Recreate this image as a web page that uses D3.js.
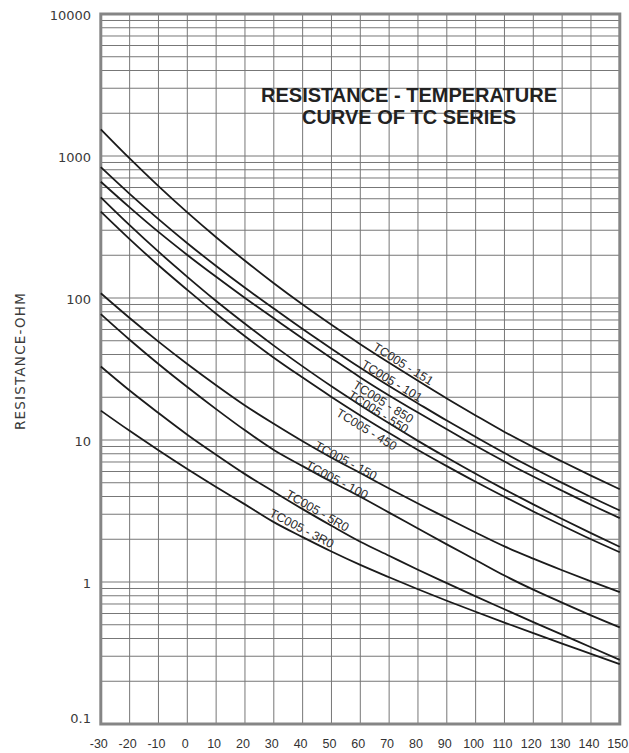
<!DOCTYPE html>
<html>
<head>
<meta charset="utf-8">
<script src="https://cdn.jsdelivr.net/npm/d3@7"></script>
<style>
  body { margin: 0; background: #fff; }
</style>
</head>
<body>
<div id="chart-area"></div>
<script>

let width = 629,
    height = 753;

// temperatures (deg C) every 10 from -30 to 150
let temps = [-30, -20, -10, 0, 10, 20, 30, 40, 50, 60, 70, 80, 90, 100, 110, 120, 130, 140, 150];

// resistance (ohm)
let r151 = [1542, 962, 614, 401, 268, 183, 127, 89.9, 64.7, 47.3, 35.0, 26.1, 19.6, 14.9, 11.4, 8.91, 7.05, 5.61, 4.50];
let r101 = [834, 541, 359, 243, 168, 118, 84.3, 60.5, 44.0, 32.3, 24.0, 18.1, 13.7, 10.5, 8.09, 6.32, 4.99, 3.97, 3.19];
let r850 = [659, 435, 292, 201, 141, 100, 71.9, 51.8, 37.7, 27.6, 20.6, 15.6, 11.9, 9.10, 7.05, 5.53, 4.39, 3.50, 2.82];
let r550 = [512, 326, 212, 141, 95.3, 65.9, 46.2, 33.0, 23.9, 17.6, 13.1, 9.86, 7.52, 5.78, 4.49, 3.52, 2.78, 2.21, 1.77];
let r450 = [406, 260, 170, 114, 77.4, 53.8, 38.0, 27.5, 20.1, 14.9, 11.2, 8.51, 6.55, 5.08, 3.98, 3.14, 2.50, 2.00, 1.62];
let r150 = [108, 72.3, 49.3, 34.3, 24.3, 17.5, 13.0, 9.79, 7.50, 5.85, 4.55, 3.57, 2.82, 2.23, 1.78, 1.46, 1.21, 1.01, 0.849];
let r100 = [76.9, 50.8, 34.3, 23.6, 16.5, 11.7, 8.51, 6.55, 5.08, 3.98, 3.08, 2.38, 1.84, 1.43, 1.11, 0.883, 0.715, 0.582, 0.479];
let r5r0 = [32.9, 22.3, 15.5, 10.9, 7.87, 5.75, 4.32, 3.26, 2.49, 1.92, 1.53, 1.22, 0.982, 0.792, 0.643, 0.522, 0.426, 0.347, 0.283];
let r3r0 = [16.1, 11.6, 8.47, 6.25, 4.67, 3.52, 2.64, 2.07, 1.64, 1.32, 1.08, 0.889, 0.738, 0.617, 0.518, 0.436, 0.368, 0.312, 0.264];

let seriesNames = ["TC005 - 151", "TC005 - 101", "TC005 - 850", "TC005 - 550", "TC005 - 450",
                   "TC005 - 150", "TC005 - 100", "TC005 - 5R0", "TC005 - 3R0"];
let seriesValues = [r151, r101, r850, r550, r450, r150, r100, r5r0, r3r0];

// where each curve name sits (temperature, ohm)
let labelTemps = [74.9, 71.0, 68.0, 66.3, 62.2, 55.0, 51.9, 45.2, 39.7];
let labelOhms = [34.4, 26.1, 18.6, 15.8, 11.9, 7.16, 5.24, 3.18, 2.39];

let xTickLabels = [-30, -20, -10, 0, 10, 20, 30, 40, 50, 60, 70, 80, 90, 100, 110, 120, 130, 140, 150];
let yTickLabels = [0.1, 1, 10, 100, 1000, 10000];

let svg = d3.select("#chart-area").append("svg")
    .attr("width", width)
    .attr("height", height);

let x = d3.scaleLinear().domain([-30, 150]).range([100.8, 619.8]);
let y = d3.scaleLog().domain([0.1, 10000]).range([724, 14]);

// grid lines: 1..9 in each decade
let yGrid = [];
[0.1, 1, 10, 100, 1000].forEach(function(d){
  for (let k = 1; k <= 9; k++) yGrid.push(d * k);
});
yGrid.push(10000);

svg.selectAll(".hgrid")
  .data(yGrid)
  .enter().append("line")
  .attr("class", "hgrid")
  .attr("x1", x(-30)).attr("x2", x(150))
  .attr("y1", d => y(d)).attr("y2", d => y(d))
  .attr("stroke", "#777")
  .attr("stroke-width", 1);

svg.selectAll(".vgrid")
  .data(xTickLabels)
  .enter().append("line")
  .attr("class", "vgrid")
  .attr("x1", d => x(d)).attr("x2", d => x(d))
  .attr("y1", y(10000)).attr("y2", y(0.1))
  .attr("stroke", "#777")
  .attr("stroke-width", 1);

// frame
svg.append("rect")
  .attr("x", x(-30)).attr("y", y(10000))
  .attr("width", x(150) - x(-30))
  .attr("height", y(0.1) - y(10000))
  .attr("fill", "none")
  .attr("stroke", "#858585")
  .attr("stroke-width", 3);

// tick labels
svg.selectAll(".xlab")
  .data(xTickLabels)
  .enter().append("text")
  .attr("class", "xlab")
  .attr("x", d => x(d) - 2)
  .attr("y", 748)
  .attr("text-anchor", "middle")
  .attr("font-family", "Liberation Sans, Arial, sans-serif")
  .attr("font-size", 12.5)
  .attr("fill", "#333")
  .text(d => d);

svg.selectAll(".ylab")
  .data(yTickLabels)
  .enter().append("text")
  .attr("class", "ylab")
  .attr("x", 91)
  .attr("y", d => y(d) + (d === 0.1 ? -1 : 6))
  .attr("text-anchor", "end")
  .attr("font-family", "DejaVu Sans, sans-serif")
  .attr("font-size", 13)
  .attr("fill", "#3a3a3a")
  .text(d => d);

svg.append("text")
  .attr("transform", "translate(25,361) rotate(-90)")
  .attr("text-anchor", "middle")
  .attr("font-family", "DejaVu Sans, sans-serif")
  .attr("font-size", 13.5)
  .attr("letter-spacing", 1.2)
  .attr("fill", "#3a3a3a")
  .text("RESISTANCE-OHM");

// curves
let line = d3.line()
  .x((d, i) => x(temps[i]))
  .y(d => y(d))
  .curve(d3.curveMonotoneX);

svg.selectAll(".curve")
  .data(seriesValues)
  .enter().append("path")
  .attr("class", "curve")
  .attr("d", d => line(d))
  .attr("fill", "none")
  .attr("stroke", "#1b1b1b")
  .attr("stroke-width", 1.8);

// curve names, turned along the local slope
function slopeAngle(vals, t) {
  let i = Math.min(Math.floor((t + 30) / 10), temps.length - 2);
  let dx = x(temps[i + 1]) - x(temps[i]);
  let dy = y(vals[i + 1]) - y(vals[i]);
  return Math.atan2(dy, dx) * 180 / Math.PI;
}

svg.selectAll(".clab")
  .data(seriesNames)
  .enter().append("text")
  .attr("class", "clab")
  .attr("transform", (d, i) => "translate(" + x(labelTemps[i]) + "," + y(labelOhms[i]) + ") rotate(" + slopeAngle(seriesValues[i], labelTemps[i]) + ")")
  .attr("text-anchor", "middle")
  .attr("dy", "0.35em")
  .attr("font-family", "Liberation Sans, Arial, sans-serif")
  .attr("font-size", 12.3)
  .attr("fill", "#2b2b2b")
  .text(d => d);

// title
let title = svg.append("text")
  .attr("text-anchor", "middle")
  .attr("font-family", "Liberation Sans, Arial, sans-serif")
  .attr("font-weight", "bold")
  .attr("font-size", 20)
  .attr("fill", "#222");
title.append("tspan").attr("x", 409).attr("y", 101.5).text("RESISTANCE - TEMPERATURE");
title.append("tspan").attr("x", 409).attr("y", 123.5).text("CURVE OF TC SERIES");

</script>
</body>
</html>
